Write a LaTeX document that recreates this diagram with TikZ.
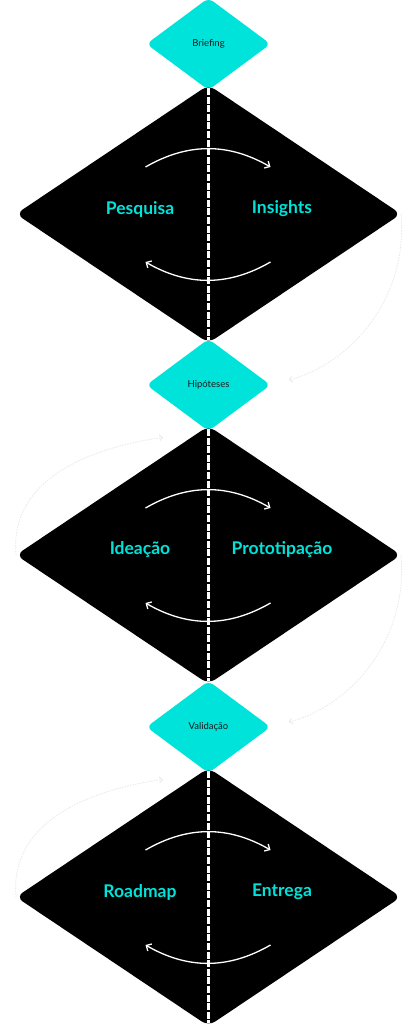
\documentclass[tikz,border=0pt]{standalone}
\usepackage{fontspec}
\setmainfont{Lato}
\usepackage{tikz}
\usetikzlibrary{positioning,arrows.meta,shapes.geometric,calc}
\definecolor{stagecolor}{HTML}{00E3DA}
\definecolor{gatetext}{HTML}{1A1A1A}
\definecolor{loopcolor}{HTML}{E4EBEB}
\tikzset{
    gate/.style={diamond, fill=stagecolor, draw=none, minimum width=124pt, minimum height=92pt, inner sep=0pt, outer sep=0pt, rounded corners=6pt, text=gatetext, font=\fontsize{9.5}{11}\selectfont},
    phase/.style={diamond, fill=black, draw=none, minimum width=385pt, minimum height=258pt, inner sep=0pt, outer sep=0pt, rounded corners=8pt},
    phase label/.style={text=stagecolor, font=\fontsize{17.5}{20}\selectfont\bfseries},
    split line/.style={white, line width=2.6pt, dash pattern=on 7pt off 1.6pt},
    cycle arrow/.style={-{Straight Barb[length=4pt,width=8pt]}, white, line width=1.3pt},
    loop arrow/.style={-{Straight Barb[length=3pt,width=6pt]}, loopcolor, line width=0.8pt, dash pattern=on 1.5pt off 1.2pt}
}
\begin{document}
\begin{tikzpicture}[x=1pt, y=1pt]
\useasboundingbox[fill=white] (0,0) rectangle (417,-1024);

\node[gate] (brief) at (208.5,-44) {Briefing};
\node[phase, below=-5pt of brief] (pesq) {};
\node[gate, below=-4pt of pesq] (hip) {Hipóteses};
\node[phase, below=-5pt of hip] (idea) {};
\node[gate, below=-3pt of idea] (valid) {Validação};
\node[phase, below=-5pt of valid] (road) {};

% labels of each phase
\node[phase label] (pesqL) at ($(pesq.center)+(-68.5,5)$) {Pesquisa};
\node[phase label] (pesqR) at ($(pesq.center)+(73.5,5)$) {Insights};
\node[phase label] (ideaL) at ($(idea.center)+(-68.5,5)$) {Ideação};
\node[phase label] (ideaR) at ($(idea.center)+(73.5,5)$) {Prototipação};
\node[phase label] (roadL) at ($(road.center)+(-68.5,5)$) {Roadmap};
\node[phase label] (roadR) at ($(road.center)+(73.5,5)$) {Entrega};

% split line and the two turning arrows
\foreach \p in {pesq, idea, road} {
    \draw[split line] ($(\p.north)+(0,-3)$) -- ($(\p.south)+(0,3)$);
    \coordinate (\p-ul) at ($(\p.center)+(-63,47)$);
    \coordinate (\p-ur) at ($(\p.center)+(62,47)$);
    \coordinate (\p-dl) at ($(\p.center)+(-63,-48)$);
    \coordinate (\p-dr) at ($(\p.center)+(62,-48)$);
    \draw[cycle arrow] (\p-ul) to[bend left=30] (\p-ur);
    \draw[cycle arrow] (\p-dr) to[bend left=30] (\p-dl);
}

% faint loops between phases and gates
\draw[loop arrow, shorten >=19pt] (pesq.east) to[out=-85, in=15] (hip.east);
\draw[loop arrow, shorten >=46pt] (idea.west) to[out=95, in=188] (hip.south);
\draw[loop arrow, shorten >=19pt] (idea.east) to[out=-85, in=15] (valid.east);
\draw[loop arrow, shorten >=46pt] (road.west) to[out=95, in=188] (valid.south);
\end{tikzpicture}
\end{document}
